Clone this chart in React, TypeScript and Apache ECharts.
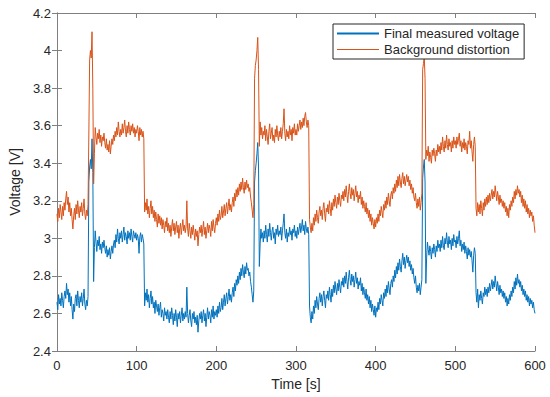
import React, { useEffect, useRef } from "react";
import * as echarts from "echarts";

// Sampling grid: one sample every second from 0 to 600 s
const TIME_STEP_S = 1;

// Final measured voltage [V] (t = 0, 1, 2, ... 600 s)
const MEASURED: number[] = [
  2.66, 2.62, 2.70, 2.65, 2.68, 2.64, 2.71, 2.67, 2.63, 2.69, 2.72, 2.68, 2.76, 2.70, 2.73, 2.66, 2.71, 2.64, 2.69, 2.62,
  2.57, 2.65, 2.61, 2.68, 2.70, 2.64, 2.72, 2.67, 2.63, 2.69, 2.66, 2.71, 2.64, 2.68, 2.73, 2.65, 2.62, 2.67, 2.64, 2.69,
  3.30, 3.38, 3.42, 3.37, 3.53, 3.35, 2.77, 2.95, 3.04, 2.98, 2.93, 2.99, 2.96, 3.01, 2.94, 2.97, 2.92, 2.98, 2.95, 2.99,
  2.95, 2.92, 2.96, 2.90, 2.94, 2.91, 2.95, 2.89, 2.93, 2.96, 2.92, 2.97, 2.99, 2.95, 3.02, 2.98, 3.05, 3.00, 2.97, 3.03,
  3.00, 3.04, 2.98, 3.02, 3.06, 2.99, 3.03, 3.01, 2.97, 3.04, 3.00, 3.03, 2.99, 3.05, 3.01, 2.98, 3.04, 3.02, 3.00, 3.03,
  2.99, 3.02, 3.00, 2.92, 3.01, 3.03, 2.98, 3.02, 3.00, 2.97, 2.64, 2.71, 2.67, 2.73, 2.66, 2.70, 2.63, 2.68, 2.72, 2.65,
  2.69, 2.63, 2.66, 2.60, 2.67, 2.64, 2.61, 2.65, 2.59, 2.63, 2.66, 2.58, 2.62, 2.60, 2.56, 2.63, 2.59, 2.61, 2.57, 2.62,
  2.58, 2.55, 2.61, 2.57, 2.63, 2.59, 2.54, 2.60, 2.56, 2.62, 2.58, 2.53, 2.60, 2.57, 2.61, 2.55, 2.59, 2.63, 2.56, 2.60,
  2.57, 2.61, 2.58, 2.74, 2.60, 2.55, 2.59, 2.62, 2.56, 2.53, 2.60, 2.57, 2.61, 2.55, 2.58, 2.54, 2.59, 2.50, 2.56, 2.60,
  2.57, 2.61, 2.55, 2.59, 2.62, 2.56, 2.60, 2.53, 2.58, 2.63, 2.57, 2.61, 2.59, 2.55, 2.62, 2.58, 2.64, 2.57, 2.61, 2.59,
  2.62, 2.58, 2.64, 2.60, 2.66, 2.61, 2.63, 2.68, 2.62, 2.66, 2.70, 2.64, 2.68, 2.71, 2.65, 2.69, 2.73, 2.67, 2.70, 2.66,
  2.71, 2.74, 2.69, 2.76, 2.72, 2.78, 2.75, 2.80, 2.76, 2.82, 2.78, 2.84, 2.80, 2.86, 2.82, 2.79, 2.85, 2.81, 2.87, 2.83,
  2.84, 2.80, 2.82, 2.77, 2.74, 2.70, 2.66, 2.72, 3.30, 3.36, 3.40, 3.45, 3.51, 3.38, 2.85, 2.97, 3.05, 3.00, 3.03, 2.98,
  3.04, 3.00, 3.07, 3.02, 2.98, 3.05, 3.01, 3.08, 3.03, 2.99, 3.04, 3.06, 3.00, 3.03, 2.97, 3.05, 3.02, 3.07, 3.01, 3.04,
  3.02, 3.06, 2.99, 3.04, 3.08, 3.13, 3.03, 3.00, 3.05, 2.98, 3.03, 3.01, 3.06, 3.02, 3.04, 2.99, 3.05, 3.03, 3.07, 3.01,
  3.04, 3.00, 3.06, 3.02, 3.05, 3.08, 3.03, 3.06, 3.10, 3.04, 3.07, 3.02, 3.09, 3.05, 3.03, 3.06, 3.02, 2.64, 2.58, 2.55,
  2.61, 2.57, 2.64, 2.60, 2.67, 2.63, 2.69, 2.65, 2.62, 2.68, 2.71, 2.66, 2.70, 2.64, 2.69, 2.72, 2.67, 2.63, 2.70, 2.68,
  2.72, 2.67, 2.74, 2.70, 2.66, 2.73, 2.69, 2.75, 2.71, 2.77, 2.73, 2.70, 2.76, 2.72, 2.78, 2.74, 2.71, 2.77, 2.75, 2.79,
  2.74, 2.80, 2.76, 2.82, 2.77, 2.73, 2.79, 2.83, 2.78, 2.75, 2.81, 2.77, 2.80, 2.74, 2.78, 2.82, 2.76, 2.79, 2.73, 2.77,
  2.75, 2.79, 2.72, 2.76, 2.70, 2.74, 2.71, 2.68, 2.73, 2.67, 2.70, 2.65, 2.69, 2.63, 2.67, 2.61, 2.65, 2.62, 2.59, 2.64,
  2.58, 2.63, 2.61, 2.66, 2.62, 2.68, 2.65, 2.70, 2.67, 2.64, 2.71, 2.68, 2.73, 2.69, 2.75, 2.71, 2.77, 2.73, 2.70, 2.76,
  2.78, 2.74, 2.80, 2.77, 2.83, 2.79, 2.85, 2.81, 2.87, 2.83, 2.89, 2.85, 2.82, 2.88, 2.92, 2.86, 2.90, 2.84, 2.88, 2.91,
  2.87, 2.90, 2.85, 2.88, 2.83, 2.86, 2.81, 2.84, 2.79, 2.76, 2.80, 2.74, 2.71, 2.75, 2.72, 2.76, 2.70, 2.74, 2.78, 3.32,
  3.38, 3.42, 3.30, 2.76, 2.90, 2.98, 2.94, 2.91, 2.96, 2.93, 2.89, 2.95, 2.92, 2.97, 2.94, 2.90, 2.96, 2.93, 2.99, 2.95,
  2.97, 2.93, 2.99, 2.95, 3.01, 2.96, 2.94, 3.00, 2.97, 3.03, 2.98, 2.95, 3.01, 2.97, 2.99, 2.94, 3.00, 2.96, 3.02, 2.98,
  2.99, 2.95, 3.01, 2.97, 3.00, 3.04, 2.96, 2.99, 2.93, 2.97, 2.94, 2.98, 2.92, 2.96, 2.93, 2.89, 2.95, 2.91, 2.94, 2.90,
  2.93, 2.88, 2.82, 2.91, 2.95, 2.92, 2.71, 2.66, 2.73, 2.63, 2.70, 2.67, 2.72, 2.68, 2.65, 2.71, 2.69, 2.74, 2.70, 2.73,
  2.69, 2.74, 2.71, 2.76, 2.72, 2.75, 2.78, 2.73, 2.77, 2.74, 2.80, 2.76, 2.72, 2.77, 2.74, 2.70, 2.75, 2.71, 2.73, 2.69,
  2.72, 2.68, 2.71, 2.66, 2.69, 2.64, 2.68, 2.65, 2.70, 2.67, 2.72, 2.69, 2.74, 2.71, 2.77, 2.73, 2.79, 2.75, 2.81, 2.76,
  2.78, 2.74, 2.77, 2.72, 2.75, 2.70, 2.73, 2.69, 2.72, 2.67, 2.70, 2.66, 2.69, 2.64, 2.68, 2.65, 2.67, 2.63, 2.66, 2.62,
  2.60,
];

// Background distortion [V] (t = 0, 1, 2, ... 600 s)
const BACKGROUND: number[] = [
  3.13, 3.09, 3.16, 3.11, 3.18, 3.14, 3.10, 3.17, 3.12, 3.19, 3.15, 3.21, 3.25, 3.18, 3.22, 3.14, 3.19, 3.12, 3.16, 3.10,
  3.05, 3.12, 3.16, 3.10, 3.18, 3.13, 3.20, 3.15, 3.11, 3.17, 3.14, 3.19, 3.12, 3.16, 3.21, 3.13, 3.10, 3.15, 3.12, 3.18,
  3.55, 3.95, 4.00, 3.96, 4.10, 3.80, 3.29, 3.45, 3.59, 3.54, 3.50, 3.56, 3.53, 3.58, 3.51, 3.55, 3.49, 3.54, 3.52, 3.56,
  3.51, 3.48, 3.53, 3.47, 3.50, 3.46, 3.52, 3.45, 3.49, 3.53, 3.50, 3.55, 3.52, 3.57, 3.54, 3.59, 3.55, 3.62, 3.57, 3.54,
  3.58, 3.55, 3.61, 3.56, 3.59, 3.63, 3.57, 3.54, 3.60, 3.56, 3.62, 3.58, 3.55, 3.60, 3.57, 3.61, 3.56, 3.59, 3.54, 3.58,
  3.56, 3.60, 3.57, 3.52, 3.59, 3.55, 3.58, 3.54, 3.57, 3.53, 3.14, 3.19, 3.15, 3.21, 3.13, 3.17, 3.11, 3.16, 3.20, 3.13,
  3.17, 3.11, 3.15, 3.09, 3.14, 3.10, 3.06, 3.13, 3.08, 3.12, 3.07, 3.11, 3.05, 3.10, 3.07, 3.03, 3.09, 3.06, 3.11, 3.04,
  3.08, 3.03, 3.07, 3.01, 3.06, 3.10, 3.04, 3.08, 3.02, 3.06, 3.09, 3.03, 3.07, 3.00, 3.05, 3.08, 3.02, 3.06, 3.10, 3.04,
  3.07, 3.03, 3.06, 3.20, 3.05, 3.01, 3.08, 3.04, 3.00, 3.06, 3.02, 3.07, 3.03, 2.99, 3.05, 3.01, 3.04, 2.96, 3.02, 3.06,
  3.03, 3.07, 3.01, 3.05, 3.09, 3.02, 3.06, 3.00, 3.04, 3.08, 3.03, 3.07, 3.05, 3.01, 3.09, 3.04, 3.10, 3.06, 3.03, 3.08,
  3.11, 3.07, 3.13, 3.09, 3.15, 3.10, 3.12, 3.17, 3.11, 3.14, 3.18, 3.12, 3.16, 3.19, 3.13, 3.17, 3.21, 3.15, 3.18, 3.14,
  3.19, 3.22, 3.17, 3.24, 3.20, 3.26, 3.22, 3.27, 3.23, 3.29, 3.25, 3.30, 3.26, 3.32, 3.27, 3.24, 3.30, 3.26, 3.31, 3.27,
  3.29, 3.25, 3.27, 3.22, 3.19, 3.15, 3.11, 3.18, 3.85, 3.92, 3.95, 4.00, 4.07, 3.90, 3.49, 3.62, 3.55, 3.59, 3.53, 3.57,
  3.55, 3.60, 3.52, 3.58, 3.54, 3.50, 3.57, 3.61, 3.53, 3.56, 3.59, 3.52, 3.55, 3.51, 3.58, 3.54, 3.60, 3.55, 3.52, 3.57,
  3.54, 3.59, 3.53, 3.57, 3.61, 3.69, 3.56, 3.52, 3.58, 3.54, 3.57, 3.53, 3.60, 3.55, 3.58, 3.52, 3.59, 3.56, 3.61, 3.55,
  3.58, 3.55, 3.61, 3.57, 3.60, 3.63, 3.58, 3.62, 3.59, 3.64, 3.60, 3.65, 3.67, 3.62, 3.59, 3.63, 3.60, 3.10, 3.06, 3.03,
  3.08, 3.04, 3.11, 3.07, 3.13, 3.09, 3.15, 3.11, 3.08, 3.14, 3.17, 3.12, 3.15, 3.10, 3.16, 3.19, 3.13, 3.09, 3.16, 3.14,
  3.18, 3.13, 3.20, 3.16, 3.12, 3.19, 3.15, 3.21, 3.17, 3.23, 3.19, 3.16, 3.22, 3.18, 3.24, 3.20, 3.17, 3.23, 3.21, 3.25,
  3.20, 3.26, 3.22, 3.28, 3.23, 3.19, 3.25, 3.29, 3.24, 3.21, 3.27, 3.23, 3.26, 3.20, 3.24, 3.28, 3.22, 3.25, 3.19, 3.23,
  3.21, 3.25, 3.18, 3.22, 3.16, 3.20, 3.17, 3.14, 3.19, 3.13, 3.16, 3.11, 3.15, 3.09, 3.13, 3.07, 3.11, 3.08, 3.05, 3.10,
  3.06, 3.11, 3.08, 3.13, 3.09, 3.15, 3.12, 3.17, 3.14, 3.11, 3.18, 3.15, 3.20, 3.16, 3.22, 3.18, 3.24, 3.20, 3.17, 3.23,
  3.25, 3.21, 3.27, 3.24, 3.29, 3.25, 3.31, 3.27, 3.33, 3.28, 3.34, 3.30, 3.27, 3.32, 3.35, 3.29, 3.33, 3.28, 3.31, 3.34,
  3.30, 3.33, 3.28, 3.31, 3.26, 3.29, 3.24, 3.27, 3.22, 3.20, 3.24, 3.19, 3.16, 3.21, 3.17, 3.22, 3.15, 3.19, 3.24, 3.90,
  3.93, 3.97, 3.85, 3.42, 3.47, 3.44, 3.49, 3.41, 3.46, 3.43, 3.40, 3.47, 3.44, 3.48, 3.45, 3.41, 3.47, 3.44, 3.50, 3.46,
  3.49, 3.45, 3.51, 3.47, 3.54, 3.49, 3.46, 3.52, 3.48, 3.55, 3.50, 3.47, 3.53, 3.49, 3.51, 3.46, 3.52, 3.48, 3.54, 3.50,
  3.52, 3.48, 3.54, 3.50, 3.53, 3.56, 3.49, 3.52, 3.46, 3.51, 3.48, 3.53, 3.47, 3.51, 3.49, 3.45, 3.52, 3.50, 3.57, 3.48,
  3.52, 3.46, 3.41, 3.50, 3.54, 3.49, 3.16, 3.12, 3.19, 3.14, 3.18, 3.13, 3.20, 3.16, 3.12, 3.19, 3.15, 3.21, 3.17, 3.22,
  3.18, 3.23, 3.19, 3.24, 3.20, 3.23, 3.26, 3.21, 3.25, 3.22, 3.28, 3.24, 3.20, 3.25, 3.22, 3.18, 3.23, 3.19, 3.21, 3.17,
  3.20, 3.16, 3.19, 3.14, 3.17, 3.12, 3.16, 3.11, 3.18, 3.15, 3.20, 3.17, 3.22, 3.19, 3.25, 3.21, 3.26, 3.23, 3.28, 3.24,
  3.26, 3.22, 3.25, 3.19, 3.23, 3.17, 3.21, 3.16, 3.20, 3.14, 3.18, 3.13, 3.16, 3.11, 3.15, 3.12, 3.14, 3.09, 3.12, 3.07,
  3.03,
];

const SERIES_NAMES = ["Final measured voltage", "Background distortion"];
const X_TICKS = { min: 0, max: 600, interval: 100 };
const Y_TICKS = { min: 2.4, max: 4.2, interval: 0.2 };
const X_NAME = "Time [s]";
const Y_NAME = "Voltage [V]";

const BLUE = "#0072BD";
const ORANGE = "#D95319";
const AXIS_GRAY = "#7f7f7f";
const TEXT = "#262626";
const FONT = "Liberation Sans, Arial, Helvetica, sans-serif";

export default function App() {
  const ref = useRef<HTMLDivElement>(null);

  useEffect(() => {
    if (!ref.current) return;
    const chart = echarts.init(ref.current, undefined, { renderer: "svg" });

    const toPairs = (vals: number[]) =>
      vals.map((v, i) => [i * TIME_STEP_S, v]);

    const axisCommon = {
      axisLine: { show: true, lineStyle: { color: AXIS_GRAY, width: 1 } },
      axisTick: { show: true, inside: true, length: 5, lineStyle: { color: AXIS_GRAY } },
      splitLine: { show: false },
    };

    chart.setOption({
      animation: false,
      backgroundColor: "#ffffff",
      textStyle: { fontFamily: FONT },
      grid: { left: 53, right: 15, top: 13, bottom: 46, containLabel: false },
      legend: {
        orient: "vertical",
        left: 333,
        top: 24,
        padding: [3, 5, 3, 4],
        itemGap: 3,
        itemWidth: 42,
        itemHeight: 12,
        backgroundColor: "#ffffff",
        borderColor: "#262626",
        borderWidth: 1,
        borderRadius: 0,
        textStyle: { fontSize: 13, color: TEXT, fontFamily: FONT },
        data: [
          { name: SERIES_NAMES[0], icon: "path://M0,0 L42,0 L42,2 L0,2 Z", itemStyle: { color: BLUE } },
          { name: SERIES_NAMES[1], icon: "path://M0,0 L42,0 L42,1 L0,1 Z", itemStyle: { color: ORANGE } },
        ],
      },
      xAxis: [
        {
          type: "value",
          position: "bottom",
          ...X_TICKS,
          name: X_NAME,
          nameLocation: "middle",
          nameGap: 25,
          nameTextStyle: { fontSize: 14, color: TEXT, fontFamily: FONT },
          axisLabel: { fontSize: 13, color: TEXT, margin: 8, fontFamily: FONT },
          ...axisCommon,
        },
        {
          type: "value",
          position: "top",
          ...X_TICKS,
          axisLabel: { show: false },
          ...axisCommon,
        },
      ],
      yAxis: [
        {
          type: "value",
          position: "left",
          ...Y_TICKS,
          name: Y_NAME,
          nameLocation: "middle",
          nameGap: 33,
          nameTextStyle: { fontSize: 14, color: TEXT, fontFamily: FONT },
          axisLabel: {
            fontSize: 13,
            color: TEXT,
            margin: 6,
            fontFamily: FONT,
            formatter: (v: number) => String(Math.round(v * 10) / 10),
          },
          ...axisCommon,
        },
        {
          type: "value",
          position: "right",
          ...Y_TICKS,
          axisLabel: { show: false },
          ...axisCommon,
        },
      ],
      series: [
        {
          name: SERIES_NAMES[0],
          type: "line",
          data: toPairs(MEASURED),
          symbol: "none",
          lineStyle: { color: BLUE, width: 1 },
          itemStyle: { color: BLUE },
          xAxisIndex: 0,
          yAxisIndex: 0,
        },
        {
          name: SERIES_NAMES[1],
          type: "line",
          data: toPairs(BACKGROUND),
          symbol: "none",
          lineStyle: { color: ORANGE, width: 1 },
          itemStyle: { color: ORANGE },
          xAxisIndex: 0,
          yAxisIndex: 0,
        },
      ],
    });

    return () => chart.dispose();
  }, []);

  return (
    <div
      ref={ref}
      style={{ position: "fixed", left: 0, top: 0, width: 550, height: 397 }}
    />
  );
}
